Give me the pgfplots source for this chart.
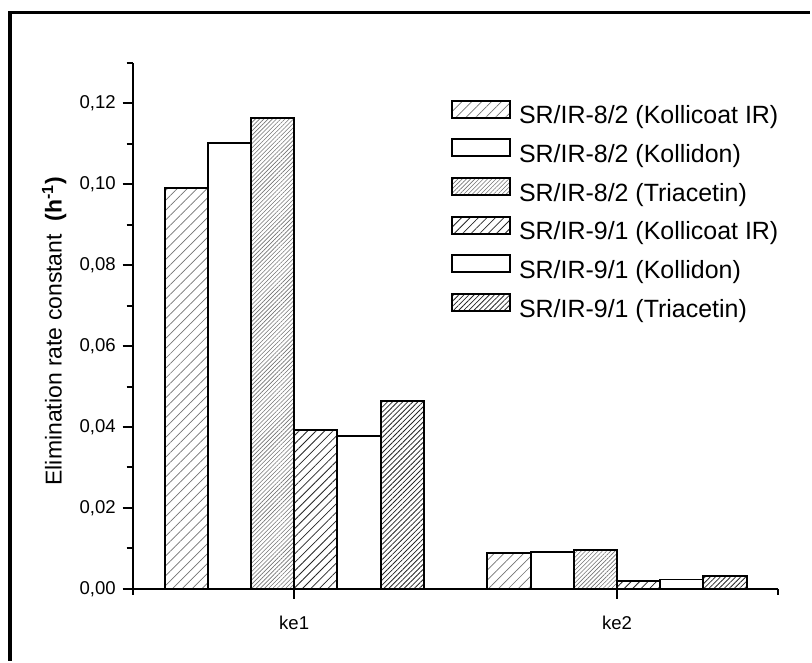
\documentclass[border=0pt]{standalone}
\usepackage{fontspec}
\setmainfont{Liberation Sans}
\usepackage{pgfplots}
\pgfplotsset{compat=1.18}
\usetikzlibrary{patterns.meta}

\begin{document}
\begin{tikzpicture}
\begin{axis}[
  name=ax,
  scale only axis,
  width=323.5pt, height=263.5pt,
  ybar=0pt, bar width=21.65pt,
  legend image code/.code={\draw[#1, line width=1pt] (0pt,0pt) rectangle (29pt,8.5pt);},
  xmin=0.5, xmax=2.5, ymin=0, ymax=0.13,
  xtick={1,2}, xticklabels={ke1,ke2},
  minor xtick={0.5,2.5},
  ytick={0,0.02,0.04,0.06,0.08,0.10,0.12},
  minor ytick={0.01,0.03,0.05,0.07,0.09,0.11,0.13},
  scaled y ticks=false,
  axis x line*=bottom, axis y line*=left,
  tick align=outside,
  major tick length=5pt, minor tick length=3pt,
  tick style={black, line width=1pt},
  axis line style={line width=1pt},
  /pgf/number format/assume math mode=true,
  y tick label style={/pgf/number format/fixed, /pgf/number format/fixed zerofill, /pgf/number format/precision=2, /pgf/number format/use comma, font=\fontsize{9.3}{10}\selectfont},
  x tick label style={font=\fontsize{9.3}{10}\selectfont, yshift=-5pt},
  ylabel={Elimination rate constant~ \textbf{(h\textsuperscript{-1})}},
  ylabel style={at={(axis description cs:0,0.49)}, anchor=south, inner sep=0pt, yshift=33pt, font=\fontsize{11.5}{13}\selectfont},
  legend cell align=left,
  legend style={at={(0.4926,0.931)}, anchor=north west, draw=none, fill=none, inner sep=0pt,
    row sep=4.5pt, font=\fontsize{12.5}{14}\selectfont,
    /tikz/every odd column/.append style={column sep=4pt},
    nodes={inner sep=0pt, text height=9pt, text depth=2.8pt}},
]
\addplot[draw=black, line width=1pt, pattern={Lines[angle=45,distance=3.5pt,line width=0.35pt]}, pattern color=black!55]
  coordinates {(1,0.0991) (2,0.0089)};
\addplot[draw=black, line width=1pt, fill=white]
  coordinates {(1,0.1101) (2,0.0090)};
\addplot[draw=black, line width=1pt, pattern={Lines[angle=45,distance=1.5pt,line width=0.3pt]}, pattern color=black!55]
  coordinates {(1,0.1164) (2,0.0097)};
\addplot[draw=black, line width=1pt, pattern={Lines[angle=45,distance=3pt,line width=0.4pt]}, pattern color=black!85]
  coordinates {(1,0.0393) (2,0.0020)};
\addplot[draw=black, line width=1pt, fill=white]
  coordinates {(1,0.0377) (2,0.0023)};
\addplot[draw=black, line width=1pt, pattern={Lines[angle=45,distance=1.8pt,line width=0.4pt]}, pattern color=black!85,
  error bars/.cd, y dir=plus, y explicit, error bar style={line width=0.6pt}, error mark options={rotate=90, mark size=2pt, line width=0.6pt}]
  coordinates {(1,0.0463) +- (0,0.0003) (2,0.0031) +- (0,0.0001)};
\legend{SR/IR-8/2 (Kollicoat IR), SR/IR-8/2 (Kollidon), SR/IR-8/2 (Triacetin), SR/IR-9/1 (Kollicoat IR), SR/IR-9/1 (Kollidon), SR/IR-9/1 (Triacetin)}
\end{axis}
\draw[line width=1.65pt, shift={(ax.south west)}] (-61.5pt,-36pt) -- (-61.5pt,288.75pt) -- (339.5pt,288.75pt);
\path[shift={(ax.south west)}] (-66.5pt,-36pt) rectangle (339.5pt,295pt);
\end{tikzpicture}
\end{document}
